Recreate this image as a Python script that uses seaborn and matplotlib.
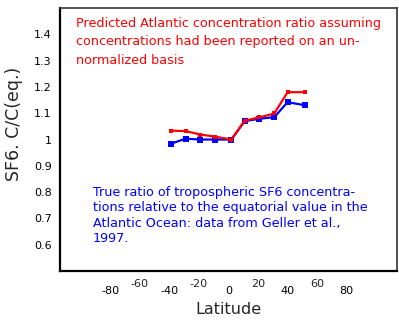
import numpy as np
import pandas as pd
import matplotlib
matplotlib.use("Agg")
import matplotlib.pyplot as plt
import seaborn as sns

# Data
latitude = [-39, -29, -19, -9, 2, 11, 21, 31, 40, 52]
predicted = [1.034, 1.032, 1.019, 1.011, 1.000, 1.072, 1.084, 1.099, 1.180, 1.180]
true_ratio = [0.984, 1.003, 1.000, 1.000, 1.000, 1.070, 1.079, 1.085, 1.142, 1.130]

major_ticks = [-100, -80, -40, 0, 40, 80]
major_labels = ['', '-80', '-40', '0', '40', '80']
minor_ticks = [-60, -20, 20, 60]
minor_labels = ['-60', '-20', '20', '60']
y_ticks = [0.6, 0.7, 0.8, 0.9, 1.0, 1.1, 1.2, 1.3, 1.4]
y_labels = ['0.6', '0.7', '0.8', '0.9', '1', '1.1', '1.2', '1.3', '1.4']

red_note = ("Predicted Atlantic concentration ratio assuming\n"
            "concentrations had been reported on an un-\n"
            "normalized basis")
blue_note = ("True ratio of tropospheric SF6 concentra-\n"
             "tions relative to the equatorial value in the\n"
             "Atlantic Ocean: data from Geller et al.,\n"
             "1997.")

df = pd.DataFrame({'Latitude': latitude, 'Predicted': predicted, 'True': true_ratio})

sns.set_style("white")
plt.rcParams['font.family'] = ['DejaVu Sans']

fig = plt.figure(figsize=(3.99, 3.20), dpi=100)
ax = fig.add_axes([0.150, 0.153, 0.845, 0.822])

sns.lineplot(data=df, x='Latitude', y='True', ax=ax, color='#0000ff',
             linewidth=1.6, marker='s', markersize=4, markeredgewidth=0)
sns.lineplot(data=df, x='Latitude', y='Predicted', ax=ax, color='#ff0000',
             linewidth=1.6, marker='s', markersize=3.5, markeredgewidth=0)

ax.set_xlim(-114, 114)
ax.set_ylim(0.5, 1.5)

ax.set_xticks(major_ticks, major_labels)
ax.set_xticks(minor_ticks, minor_labels, minor=True)
ax.tick_params(axis='x', which='major', direction='out', length=6.5, width=1.2,
               pad=4, labelsize=8, colors='black')
ax.tick_params(axis='x', which='minor', length=0, pad=5.5, labelsize=8)
ax.xaxis.get_major_ticks()[0].tick1line.set_markersize(2.5)

ax.set_yticks(y_ticks, y_labels)
ax.tick_params(axis='y', direction='in', length=3.6, width=1.2, pad=6,
               labelsize=8, colors='black')

for side in ['left', 'bottom']:
    ax.spines[side].set_linewidth(1.6)
    ax.spines[side].set_color('black')
for side in ['top', 'right']:
    ax.spines[side].set_linewidth(1.2)
    ax.spines[side].set_color('#333333')

ax.set_xlabel('Latitude', fontsize=11.5)
ax.xaxis.set_label_coords(0.5, -0.118)
ax.set_ylabel('SF6. C/C(eq.)', fontsize=12.5)
ax.yaxis.set_label_coords(-0.11, 0.56)

ax.text(0.047, 0.965, red_note, transform=ax.transAxes, color='#ff0000',
        fontsize=9.2, va='top', ha='left', linespacing=1.52)
ax.text(0.097, 0.325, blue_note, transform=ax.transAxes, color='#0000ff',
        fontsize=9.2, va='top', ha='left', linespacing=1.25)

fig.savefig('out.png', dpi=100)
